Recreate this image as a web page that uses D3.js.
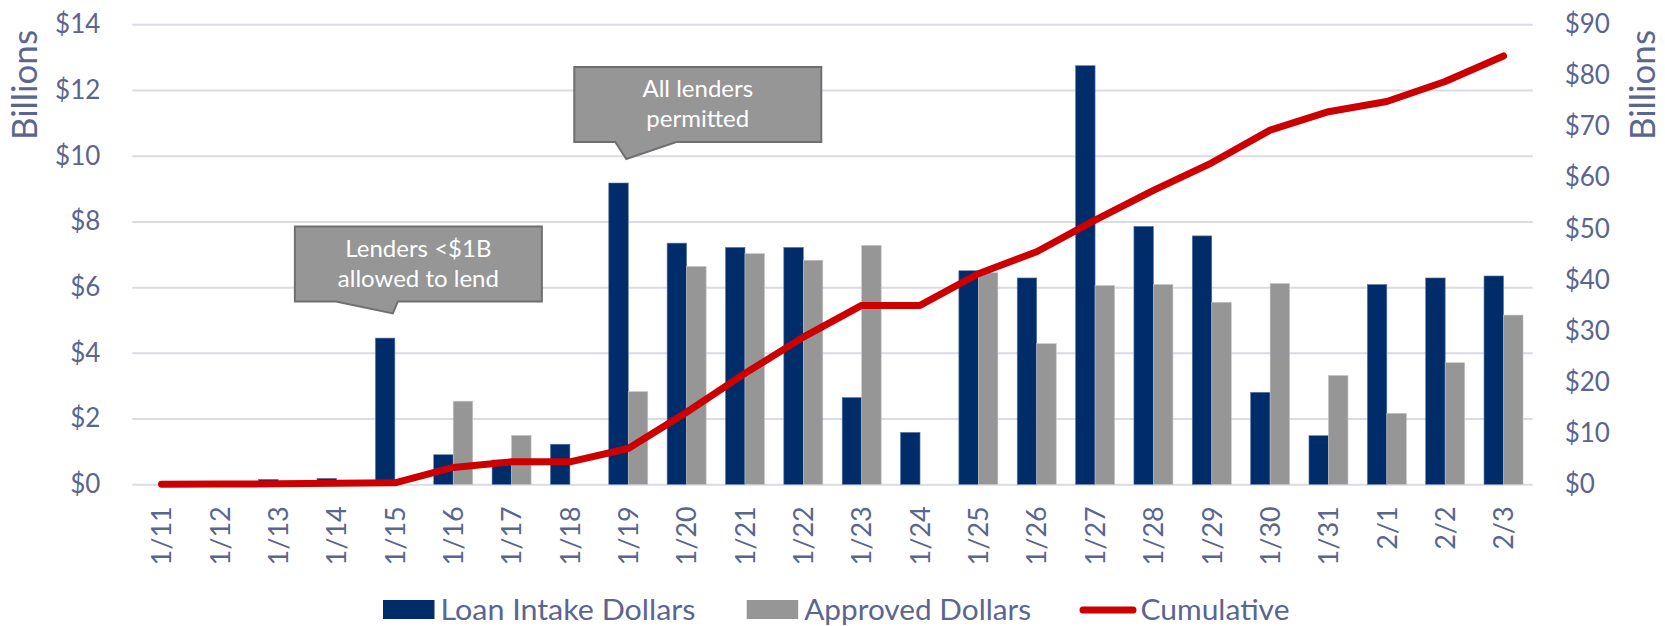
<!DOCTYPE html>
<html>
<head>
<meta charset="utf-8">
<script src="https://cdn.jsdelivr.net/npm/d3@7"></script>
<style>
    body { margin: 0; background: #fff; }
    svg { display: block; font-family: Lato, "Open Sans", sans-serif; }
</style>
</head>
<body>
<svg id="chart" width="1665" height="626"></svg>
<script>
// data (billions of dollars)
var dates = ['1/11', '1/12', '1/13', '1/14', '1/15', '1/16', '1/17', '1/18', '1/19', '1/20', '1/21', '1/22',
    '1/23', '1/24', '1/25', '1/26', '1/27', '1/28', '1/29', '1/30', '1/31', '2/1', '2/2', '2/3'];
var loanIntake = [0, 0, 0.15, 0.18, 4.45, 0.9, 0.74, 1.22, 9.17, 7.34, 7.21, 7.21,
    2.64, 1.58, 6.5, 6.28, 12.74, 7.85, 7.56, 2.8, 1.48, 6.08, 6.28, 6.34];
var approved = [0, 0, 0, 0, 0, 2.53, 1.49, 0, 2.82, 6.63, 7.02, 6.82,
    7.27, 0, 6.44, 4.28, 6.05, 6.08, 5.54, 6.11, 3.31, 2.16, 3.7, 5.15];
var cumulative = [0, 0.05, 0.1, 0.2, 0.3, 3.3, 4.4, 4.4, 7.0, 14.1, 21.7, 28.8,
    35.0, 35.0, 41.2, 45.5, 51.7, 57.5, 62.9, 69.3, 72.9, 74.9, 78.8, 83.8];
var leftTicks = [0, 2, 4, 6, 8, 10, 12, 14];
var rightTicks = [0, 10, 20, 30, 40, 50, 60, 70, 80, 90];
var seriesNames = ['Loan Intake Dollars', 'Approved Dollars', 'Cumulative'];
var callouts = [
    {lines: ['Lenders <$1B', 'allowed to lend'], date: '1/15', value: 5.2},
    {lines: ['All lenders', 'permitted'], date: '1/19', value: 9.9}
];

var CONFIG = {
    navy: '#002d6a',
    gray: '#969696',
    red: '#cc0000',
    grid: '#d9dbe7',
    text: '#5a6590',
    barWidth: 19.5
};

var svg = d3.select('#chart');
var plot = {left: 132.3, right: 1532.7, top: 24.3, bottom: 484.3};

var x = d3.scaleBand().domain(dates).range([plot.left, plot.right]);
var yLeft = d3.scaleLinear().domain([0, 14]).range([plot.bottom, plot.top]);
var yRight = d3.scaleLinear().domain([0, 90]).range([plot.bottom, plot.top]);
var cx = function (d) { return x(d) + x.bandwidth() / 2; };

// strip d3's default axis font so the svg font is used
function cleanAxis(g, size) {
    g.attr('font-family', null).attr('font-size', null);
    g.select('.domain').remove();
    g.selectAll('text').attr('fill', CONFIG.text).style('font-size', size);
}

// grid
svg.append('g')
    .attr('transform', 'translate(' + plot.left + ',0)')
    .call(d3.axisLeft(yLeft).tickValues(leftTicks).tickSize(-(plot.right - plot.left)).tickFormat(''))
    .call(function (g) {
        g.select('.domain').remove();
        g.selectAll('line').attr('stroke', CONFIG.grid).attr('stroke-width', 2);
    });

// left axis labels
svg.append('g')
    .attr('transform', 'translate(' + plot.left + ',0)')
    .call(d3.axisLeft(yLeft).tickValues(leftTicks).tickSize(0).tickPadding(32).tickFormat(function (d) { return '$' + d; }))
    .call(cleanAxis, '26px');

// right axis labels
svg.append('g')
    .attr('transform', 'translate(' + plot.right + ',0)')
    .call(d3.axisRight(yRight).tickValues(rightTicks).tickSize(0).tickPadding(32).tickFormat(function (d) { return '$' + d; }))
    .call(cleanAxis, '26px');

// x axis labels (rotated)
svg.append('g')
    .attr('transform', 'translate(0,' + plot.bottom + ')')
    .call(d3.axisBottom(x).tickSize(0))
    .call(cleanAxis, '27px')
    .call(function (g) {
        g.selectAll('text')
            .attr('text-anchor', 'end')
            .attr('transform', 'rotate(-90)')
            .attr('x', -22)
            .attr('y', 0)
            .attr('dy', '0.36em');
    });

// axis titles
[{x: 24, t: 'Billions'}, {x: 1642, t: 'Billions'}].forEach(function (a) {
    svg.append('text')
        .attr('transform', 'translate(' + a.x + ',85) rotate(-90)')
        .attr('text-anchor', 'middle')
        .attr('dy', '0.36em')
        .attr('fill', CONFIG.text)
        .style('font-size', '35px')
        .text(a.t);
});

// bars
svg.append('g').selectAll('rect')
    .data(dates.map(function (d, i) { return {date: d, v: loanIntake[i]}; }).filter(function (d) { return d.v > 0; }))
    .enter().append('rect')
    .attr('x', function (d) { return cx(d.date) - CONFIG.barWidth; })
    .attr('y', function (d) { return yLeft(d.v); })
    .attr('width', CONFIG.barWidth)
    .attr('height', function (d) { return plot.bottom - yLeft(d.v); })
    .attr('fill', CONFIG.navy)
    .attr('stroke', '#5d7aa6').attr('stroke-width', 0.6);

svg.append('g').selectAll('rect')
    .data(dates.map(function (d, i) { return {date: d, v: approved[i]}; }).filter(function (d) { return d.v > 0; }))
    .enter().append('rect')
    .attr('x', function (d) { return cx(d.date); })
    .attr('y', function (d) { return yLeft(d.v); })
    .attr('width', CONFIG.barWidth)
    .attr('height', function (d) { return plot.bottom - yLeft(d.v); })
    .attr('fill', CONFIG.gray)
    .attr('stroke', '#c4c4c4').attr('stroke-width', 0.6);

// cumulative line
var line = d3.line()
    .x(function (d) { return cx(d.date); })
    .y(function (d) { return yRight(d.v); });

svg.append('path')
    .datum(dates.map(function (d, i) { return {date: d, v: cumulative[i]}; }))
    .attr('d', line)
    .attr('fill', 'none')
    .attr('stroke', CONFIG.red)
    .attr('stroke-width', 7)
    .attr('stroke-linecap', 'round')
    .attr('stroke-linejoin', 'round');

// callouts
callouts.forEach(function (c, k) {
    var tipX = cx(c.date) - 2;
    var tipY = yLeft(c.value);
    var w = 247, h = 75;
    var bx, by, p;
    if (k === 0) {
        bx = tipX - 98; by = tipY - 12 - h;
        p = [[bx, by], [bx + w, by], [bx + w, by + h], [tipX + 5, by + h], [tipX, tipY], [tipX - 57, by + h], [bx, by + h]];
    } else {
        bx = tipX - 52; by = tipY - 17 - h;
        p = [[bx, by], [bx + w, by], [bx + w, by + h], [tipX + 50, by + h], [tipX, tipY], [tipX - 11, by + h], [bx, by + h]];
    }
    svg.append('path')
        .attr('d', 'M' + p.join('L') + 'Z')
        .attr('fill', CONFIG.gray)
        .attr('stroke', '#6f6f6f')
        .attr('stroke-width', 2);
    svg.append('text')
        .attr('x', bx + w / 2)
        .attr('y', by + h / 2)
        .attr('text-anchor', 'middle')
        .attr('fill', '#fff')
        .style('font-size', '24px')
        .selectAll('tspan')
        .data(c.lines)
        .enter().append('tspan')
        .attr('x', bx + w / 2)
        .attr('dy', function (d, i) { return i === 0 ? '-0.3em' : '1.25em'; })
        .text(function (d) { return d; });
});

// legend
var legendItems = [
    {name: seriesNames[0], kind: 'rect', color: CONFIG.navy, x: 383, len: 255},
    {name: seriesNames[1], kind: 'rect', color: CONFIG.gray, x: 746.7, len: 227},
    {name: seriesNames[2], kind: 'line', color: CONFIG.red, x: 1080, len: 149}
];
var lg = svg.append('g').attr('transform', 'translate(0,610)');
legendItems.forEach(function (it) {
    if (it.kind === 'rect') {
        lg.append('rect').attr('x', it.x).attr('y', -10).attr('width', 51.5).attr('height', 19).attr('fill', it.color);
    } else {
        lg.append('line').attr('x1', it.x + 3).attr('x2', it.x + 53).attr('y1', 0).attr('y2', 0)
            .attr('stroke', it.color).attr('stroke-width', 7).attr('stroke-linecap', 'round');
    }
    lg.append('text')
        .attr('x', it.x + (it.kind === 'rect' ? 57.5 : 60.5))
        .attr('dy', '0.36em')
        .attr('fill', CONFIG.text)
        .attr('textLength', it.len)
        .attr('lengthAdjust', 'spacingAndGlyphs')
        .style('font-size', '28px')
        .text(it.name);
});
</script>
</body>
</html>
